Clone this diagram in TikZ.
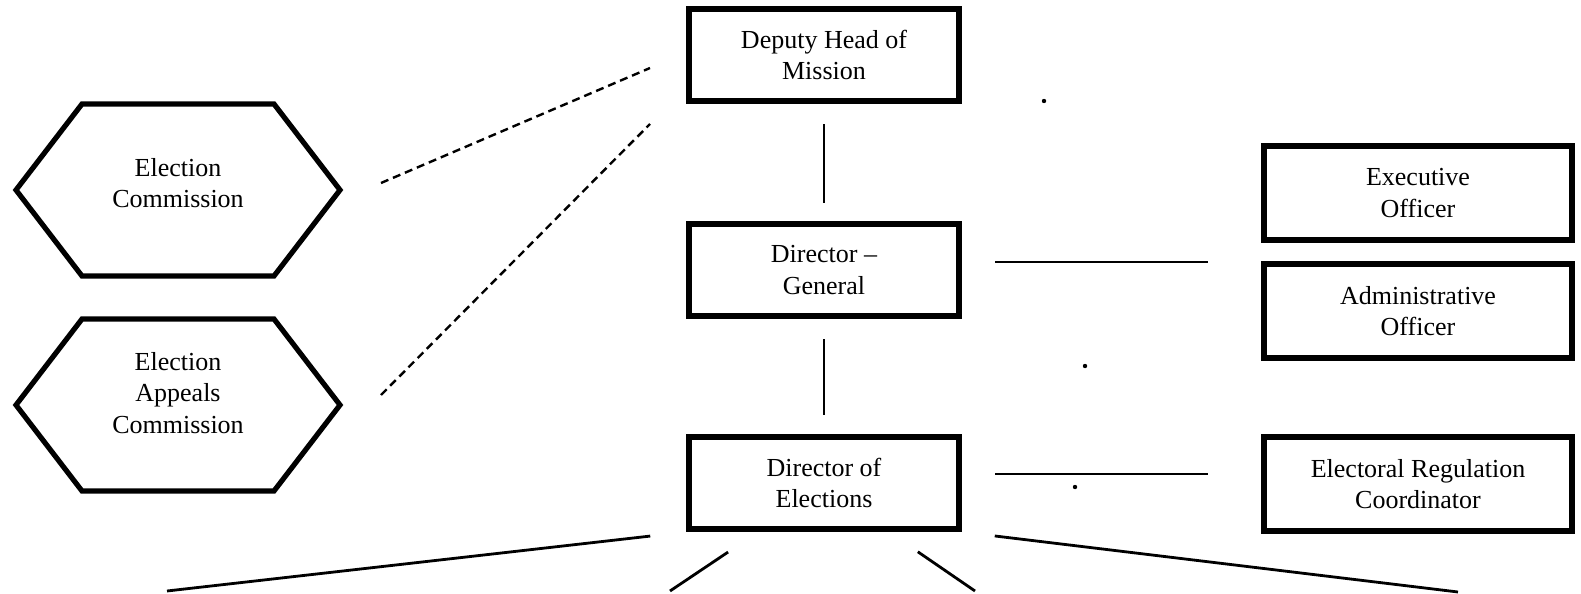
\documentclass[tikz,border=0pt]{standalone}
\usepackage{fontspec}
\setmainfont{Liberation Serif}
\usetikzlibrary{positioning}

\tikzset{
	unit/.style={draw, line width=2.8pt, align=center, inner sep=0pt, font=\fontsize{13}{15.6}\selectfont},
	midbox/.style={unit, minimum width=135.2pt, minimum height=46.2pt},
	sidebox/.style={unit, minimum width=154.2pt, minimum height=47.2pt},
	hexlabel/.style={align=center, inner sep=0pt, font=\fontsize{13}{15.6}\selectfont},
	hexline/.style={line width=2.6pt, line join=miter},
	link/.style={line width=1.4pt},
	dashlink/.style={line width=1.2pt, dash pattern=on 4pt off 2.5pt},
}

\begin{document}
\begin{tikzpicture}[x=0.5pt, y=-0.5pt]
	\useasboundingbox (0,0) rectangle (1581,594);
	% centre column
	\node[midbox] (dhm) at (824,55) {Deputy Head of\\Mission};
	\node[midbox] (dg) at (824,270) {Director --\\General};
	\node[midbox] (doe) at (824,483) {Director of\\Elections};
	% right column
	\node[sidebox] (eo) at (1418,193) {Executive\\Officer};
	\node[sidebox] (ao) at (1418,311) {Administrative\\Officer};
	\node[sidebox] (erc) at (1418,484) {Electoral Regulation\\Coordinator};
	% commissions
	\node[hexlabel] (ec) at (178,183) {Election\\Commission};
	\node[hexlabel] (eac) at (178,393) {Election\\Appeals\\Commission};
	\foreach \h/\d in {ec/79, eac/74}
	{
		\draw[hexline] ([shift={(-96,-\d)}]\h.center) -- ++(192,0) -- ++(66,86) -- ++(-66,86) -- ++(-192,0) -- ++(-66,-86) -- cycle;
	}
	% reporting lines
	\draw[link, shorten <=10pt, shorten >=9pt] (dhm) -- (dg);
	\draw[link, shorten <=10pt, shorten >=9.5pt] (dg) -- (doe);
	\coordinate (dgline) at (0,262);
	\coordinate (doeline) at (0,474);
	\draw[link, shorten <=16.5pt, shorten >=26.5pt] (dg.east |- dgline) -- (ao.west |- dgline);
	\draw[link, shorten <=16.5pt, shorten >=26.5pt] (doe.east |- doeline) -- (erc.west |- doeline);
	% commissions to deputy
	\coordinate (ecR) at (381,183);
	\coordinate (eacR) at (381,395);
	\coordinate (dhmA) at (650,68);
	\coordinate (dhmB) at (650,124);
	\draw[dashlink] (ecR) -- (dhmA);
	\draw[dashlink] (eacR) -- (dhmB);
	% lines below
	\coordinate (sub1) at (167,591);
	\coordinate (sub2) at (670,591);
	\coordinate (sub3) at (975,591);
	\coordinate (sub4) at (1458,592);
	\draw[link, shorten <=18pt] (doe.south west) -- (sub1);
	\draw[link, shorten <=18pt] ([xshift=36pt]doe.south west) -- (sub2);
	\draw[link, shorten <=17.5pt] ([xshift=-36.5pt]doe.south east) -- (sub3);
	\draw[link, shorten <=16.5pt] (doe.south east) -- (sub4);
	% specks
	\foreach \p in {(1044,101),(1085,366),(1075,487)}
		\fill \p circle (1.1pt);
\end{tikzpicture}
\end{document}
